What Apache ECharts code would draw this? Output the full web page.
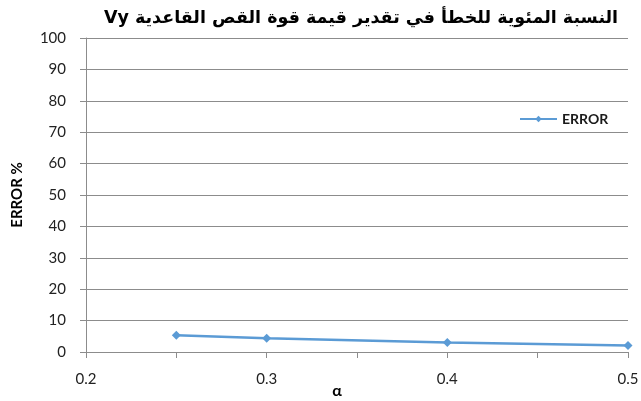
<!DOCTYPE html>
<html>
<head>
<meta charset="utf-8">
<script src="https://cdn.jsdelivr.net/npm/echarts@6/dist/echarts.min.js"></script>
<style>
  html, body { margin: 0; padding: 0; background: #fff; }
  #chart { width: 641px; height: 401px; }
</style>
</head>
<body>
<div id="chart"></div>
<script>
// Percentage error of the base shear estimate Vy for each alpha
const alphaValues = [0.25, 0.3, 0.4, 0.5];
const errorPercent = [5.3, 4.4, 3.0, 2.1];
const seriesName = 'ERROR';
const chartTitle = 'النسبة المئوية للخطأ في تقدير قيمة قوة القص القاعدية Vy';

const axisGray = '#8c8c8c';
const lineBlue = '#5b9bd5';
const labelFont = 'Lato, "Open Sans", sans-serif';

const chart = echarts.init(document.getElementById('chart'), null, { renderer: 'canvas' });
chart.setOption({
  animation: false,
  backgroundColor: '#ffffff',
  title: {
    // right-to-left embedding so the Latin "Vy" ends the sentence on the left
    text: '\u202B' + chartTitle + '\u202C',
    left: 356,
    textAlign: 'center',
    top: 4,
    textStyle: {
      fontFamily: '"DejaVu Sans", sans-serif',
      fontWeight: 'bold',
      fontSize: 17.5,
      color: '#000'
    }
  },
  legend: {
    left: 519,
    top: 112,
    padding: 0,
    itemWidth: 37,
    itemHeight: 8,
    itemGap: 4,
    textStyle: { fontFamily: labelFont, fontWeight: 'bold', fontSize: 14, color: '#1a1a1a' },
    data: [seriesName]
  },
  grid: { left: 86, right: 13, top: 38, bottom: 49, containLabel: false, outerBoundsMode: 'none' },
  xAxis: {
    type: 'value',
    min: 0.2,
    max: 0.5,
    interval: 0.05,
    name: 'α',
    nameLocation: 'middle',
    nameGap: 31,
    nameMoveOverlap: false,
    nameTextStyle: {
      fontFamily: labelFont, fontWeight: 'bold', fontSize: 16, color: '#000',
      padding: [0, 40, 0, 0]
    },
    axisLine: { lineStyle: { color: axisGray, width: 1 } },
    axisTick: { show: true, inside: false, length: 6, lineStyle: { color: axisGray } },
    axisLabel: {
      margin: 20,
      fontFamily: labelFont, fontSize: 15, color: '#222',
      formatter: function (v) {
        const h = Math.round(v * 100);
        return h % 10 === 0 ? (h / 100).toFixed(1) : '';
      }
    },
    splitLine: { show: false }
  },
  yAxis: {
    type: 'value',
    min: 0,
    max: 100,
    interval: 10,
    name: 'ERROR %',
    nameLocation: 'middle',
    nameGap: 61,
    nameMoveOverlap: false,
    nameTextStyle: { fontFamily: labelFont, fontWeight: 'bold', fontSize: 15, color: '#000' },
    axisLine: { show: true, lineStyle: { color: axisGray, width: 1 } },
    axisTick: { show: true, inside: false, length: 6, lineStyle: { color: axisGray } },
    axisLabel: { margin: 20, fontFamily: labelFont, fontSize: 15, color: '#222' },
    splitLine: { show: true, lineStyle: { color: axisGray, width: 1 } }
  },
  series: [{
    name: seriesName,
    type: 'line',
    data: alphaValues.map((a, i) => [a, errorPercent[i]]),
    symbol: 'diamond',
    symbolSize: 9,
    lineStyle: { color: lineBlue, width: 2.5 },
    itemStyle: { color: lineBlue },
    emphasis: { disabled: true }
  }]
});
</script>
</body>
</html>
